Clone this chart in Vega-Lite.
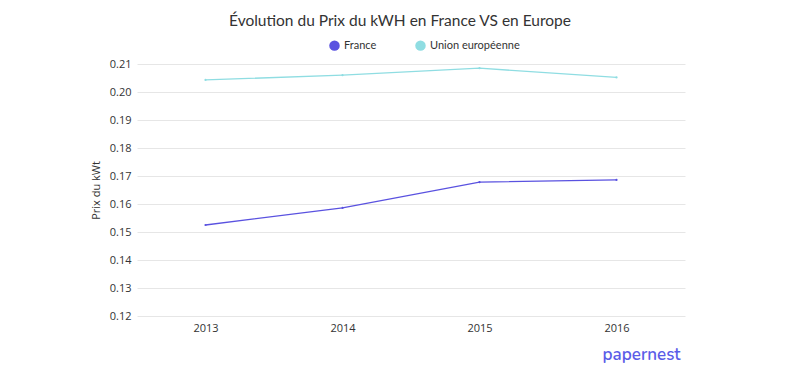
{
  "$schema": "https://vega.github.io/schema/vega-lite/v6.json",
  "autosize": {"type": "none"},
  "width": 548,
  "height": 252,
  "padding": {"left": 137, "top": 64, "right": 115, "bottom": 65},
  "background": "white",
  "title": {
    "text": "Évolution du Prix du kWH en France VS en Europe",
    "fontSize": 15.5,
    "font": "Lato",
    "fontWeight": "normal",
    "color": "#333333",
    "anchor": "middle",
    "dx": -11,
    "offset": 11
  },
  "data": {
    "values": [
      {"annee": "2013", "serie": "France", "prix": 0.1525},
      {"annee": "2014", "serie": "France", "prix": 0.1586},
      {"annee": "2015", "serie": "France", "prix": 0.1678},
      {"annee": "2016", "serie": "France", "prix": 0.1686},
      {"annee": "2013", "serie": "Union européenne", "prix": 0.2043},
      {"annee": "2014", "serie": "Union européenne", "prix": 0.2060},
      {"annee": "2015", "serie": "Union européenne", "prix": 0.2085},
      {"annee": "2016", "serie": "Union européenne", "prix": 0.2052}
    ]
  },
  "mark": {"type": "line", "strokeWidth": 1.3, "point": {"size": 5, "filled": true}},
  "encoding": {
    "x": {
      "field": "annee",
      "type": "ordinal",
      "scale": {"type": "point", "padding": 0.5},
      "axis": {
        "title": "papernest",
        "titleAnchor": "end",
        "titleX": 543,
        "titleAlign": "right",
        "titleColor": "#5b5ce8",
        "titleFont": "Nunito, Lato",
        "titleFontSize": 17,
        "titleFontWeight": 600,
        "titlePadding": 13,
        "labelAngle": 0,
        "labelFont": "Open Sans",
        "labelFontSize": 11,
        "labelColor": "#333333",
        "labelPadding": 6,
        "ticks": false,
        "domain": false,
        "grid": false
      }
    },
    "y": {
      "field": "prix",
      "type": "quantitative",
      "scale": {"domain": [0.12, 0.21], "nice": false, "zero": false},
      "axis": {
        "title": "Prix du kWt",
        "titleFont": "Open Sans",
        "titleFontSize": 11,
        "titleFontWeight": "normal",
        "titleColor": "#333333",
        "titlePadding": 8,
        "values": [0.12, 0.13, 0.14, 0.15, 0.16, 0.17, 0.18, 0.19, 0.2, 0.21],
        "format": ".2f",
        "labelFont": "Open Sans",
        "labelFontSize": 11,
        "labelColor": "#333333",
        "labelPadding": 6,
        "ticks": false,
        "domain": false,
        "gridColor": "#e6e6e6"
      }
    },
    "color": {
      "field": "serie",
      "type": "nominal",
      "scale": {"domain": ["France", "Union européenne"], "range": ["#5a52e0", "#8fdde2"]},
      "legend": {
        "title": null,
        "orient": "none",
        "direction": "horizontal",
        "legendX": 192,
        "legendY": -24,
        "symbolType": "circle",
        "symbolSize": 110,
        "symbolStrokeWidth": 0,
        "labelFont": "Lato",
        "labelFontSize": 11,
        "labelColor": "#333333",
        "columnPadding": 38
      }
    }
  },
  "config": {"view": {"stroke": null}, "legend": {"symbolOpacity": 1}}
}
